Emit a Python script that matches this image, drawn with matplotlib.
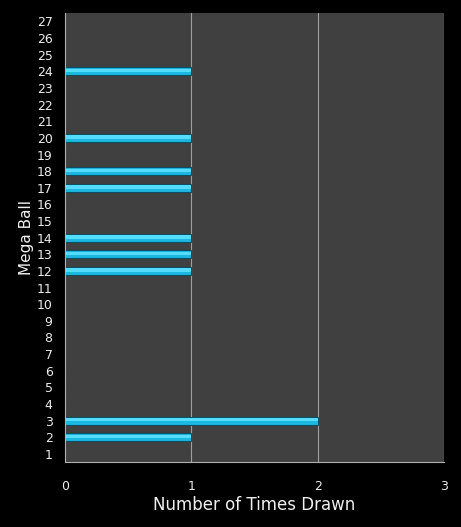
import matplotlib
matplotlib.use("Agg")
import matplotlib.pyplot as plt

balls = list(range(1, 28))
drawn = {2: 1, 3: 2, 12: 1, 13: 1, 14: 1, 17: 1, 18: 1, 20: 1, 24: 1}
counts = [drawn.get(b, 0) for b in balls]
x_ticks = [0, 1, 2, 3]

fig = plt.figure(figsize=(4.61, 5.27), dpi=100, facecolor='black')
ax = fig.add_axes([0.141, 0.123, 0.822, 0.852])
ax.set_facecolor('#404040')

# gridlines behind bars
for xt in x_ticks[1:]:
    ax.axvline(xt, color='#a0a0a0', lw=0.8, zorder=1)

# bars: dark rim, cyan body, light highlight
ax.barh(balls, counts, height=0.48, color='#1cb8e0', edgecolor='#0b4f63',
        lw=0.8, zorder=2)
ax.barh([b + 0.05 for b in balls], counts, height=0.2, color='#55dcfc',
        lw=0, zorder=3)

ax.set_xlim(0, 3)
ax.set_ylim(0.5, 27.5)
ax.set_xticks(x_ticks)
ax.set_yticks(balls)
ax.tick_params(colors='#ececec', length=0, labelsize=9, pad=9)
ax.tick_params(axis='x', pad=13)

for side in ['top', 'right']:
    ax.spines[side].set_visible(False)
for side in ['left', 'bottom']:
    ax.spines[side].set_color('#b0b0b0')
    ax.spines[side].set_linewidth(0.8)

ax.set_xlabel('Number of Times Drawn', color='#f0f0f0', fontsize=12, labelpad=2)
ax.set_ylabel('Mega Ball', color='#f0f0f0', fontsize=11, labelpad=2)

fig.savefig('out.png', dpi=100, facecolor='black')
